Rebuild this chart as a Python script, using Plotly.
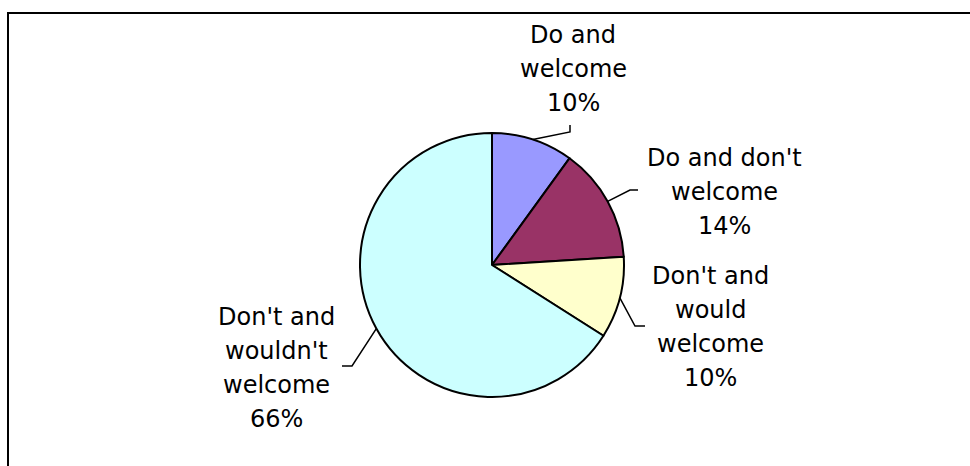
import math
import plotly.graph_objects as go

categories = ["Do and welcome", "Do and don't welcome", "Don't and would welcome", "Don't and wouldn't welcome"]
label_lines = [["Do and", "welcome"], ["Do and don't", "welcome"], ["Don't and", "would", "welcome"], ["Don't and", "wouldn't", "welcome"]]
values = [10, 14, 10, 66]
colors = ["#9999FF", "#993366", "#FFFFCC", "#CCFFFF"]

W, H = 970, 466
CX, CY, R = 492, 265, 132
LINE_GAP = 34

# label layout (pixel positions): text centre, leader elbow, leader end
label_pos = [(573, 69), (724, 192), (710, 327), (276, 368)]
elbows = [((570, 132), (570, 125)), ((630, 190), (638, 190)), ((635, 326), (645, 326)), ((352, 366), (342, 366))]


def px(x):
    return x / W


def py(y):
    return 1 - y / H


total = sum(values)
fig = go.Figure(go.Pie(
    labels=categories, values=values, sort=False, direction="clockwise", rotation=0,
    marker=dict(colors=colors, line=dict(color="black", width=2)),
    textinfo="none", hoverinfo="label+percent", showlegend=False,
    domain=dict(x=[px(CX - R), px(CX + R)], y=[py(CY + R), py(CY - R)]),
))

shapes = []
annotations = []
cum = 0
for i, v in enumerate(values):
    mid = (cum + v / 2) / total * 2 * math.pi
    cum += v
    sx = CX + R * math.sin(mid)
    sy = CY - R * math.cos(mid)
    (ex, ey), (fx, fy) = elbows[i]
    path = f"M {px(sx)},{py(sy)} L {px(ex)},{py(ey)} L {px(fx)},{py(fy)}"
    shapes.append(dict(type="path", xref="paper", yref="paper", path=path,
                       line=dict(color="black", width=1.5)))
    pct = round(v / total * 100)
    lines = label_lines[i] + [f"{pct}%"]
    lx, ly = label_pos[i]
    n = len(lines)
    for k, t in enumerate(lines):
        yk = ly + (k - (n - 1) / 2) * LINE_GAP
        annotations.append(dict(x=px(lx), y=py(yk), xref="paper", yref="paper",
                                text=t, showarrow=False,
                                xanchor="center", yanchor="middle", align="center",
                                font=dict(family="DejaVu Sans", size=24, color="black")))

# outer border
shapes.append(dict(type="rect", xref="paper", yref="paper",
                   x0=px(8), x1=px(W + 10), y0=py(H + 10), y1=py(13),
                   line=dict(color="black", width=2), fillcolor="rgba(0,0,0,0)"))

fig.update_layout(width=W, height=H, margin=dict(l=0, r=0, t=0, b=0),
                  paper_bgcolor="white", plot_bgcolor="white",
                  shapes=shapes, annotations=annotations)
fig.write_html("out.html")
